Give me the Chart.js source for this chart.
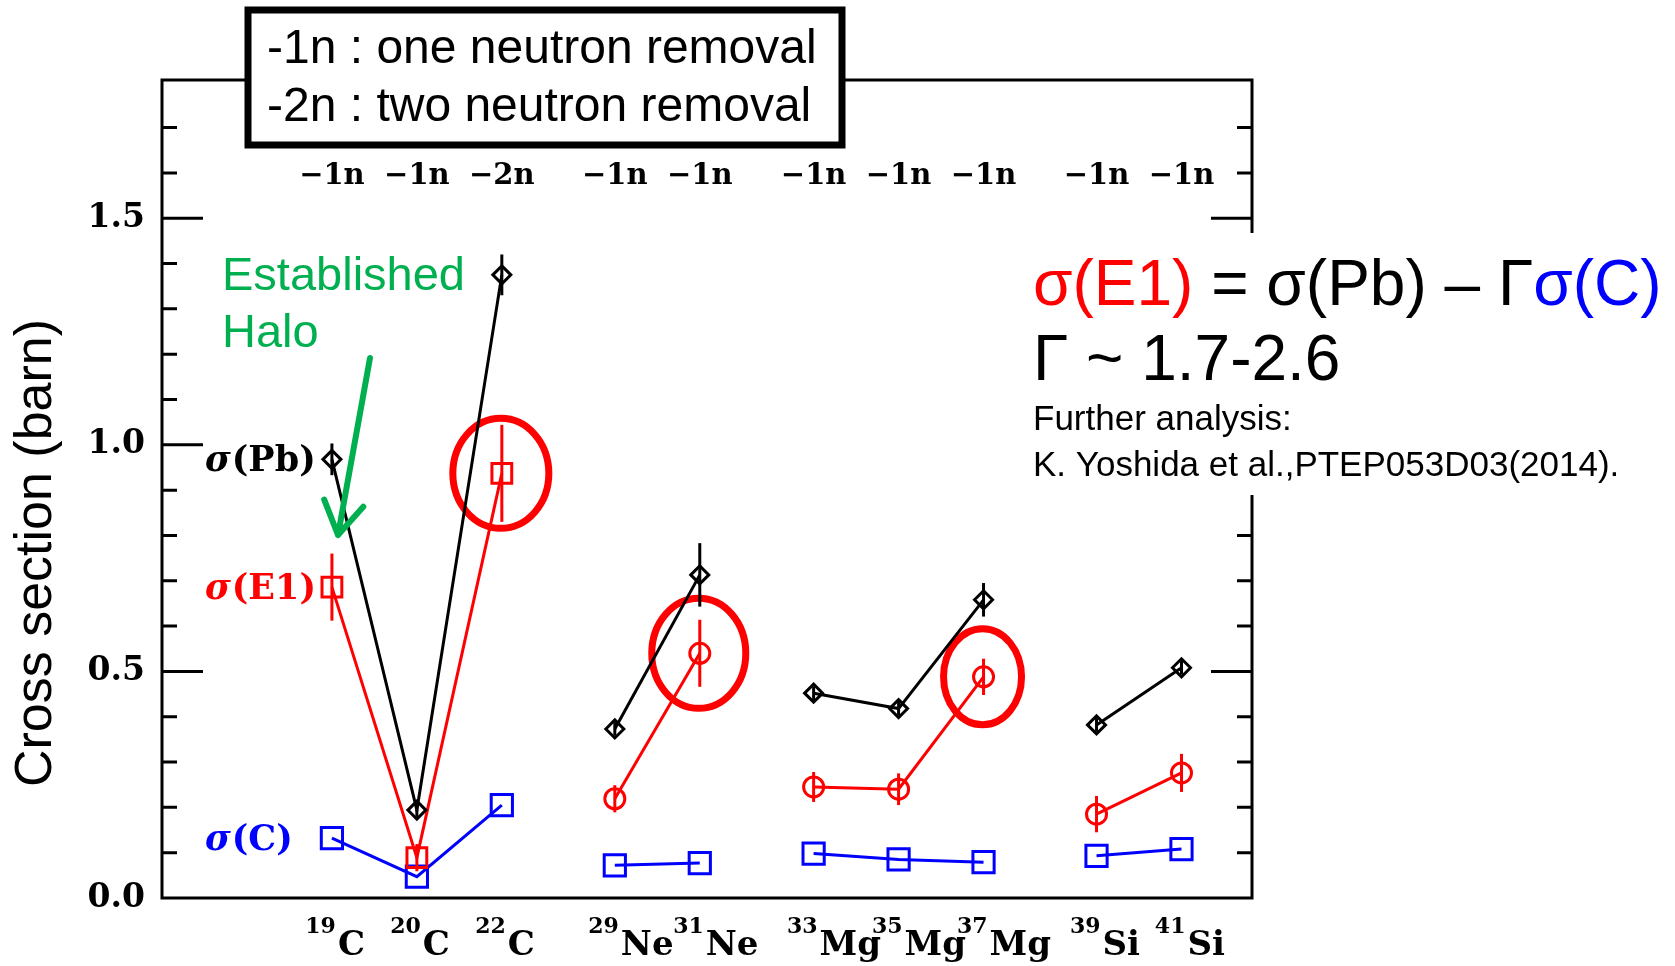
<!DOCTYPE html>
<html>
<head>
<meta charset="utf-8">
<script src="https://cdn.jsdelivr.net/npm/chart.js@4.4.0/dist/chart.umd.min.js"></script>
<style>
  html, body { margin: 0; padding: 0; background: #fff; }
  #wrap { width: 1675px; height: 966px; }
</style>
</head>
<body>
<div id="wrap"><canvas id="xsecChart" width="1675" height="966"></canvas></div>
<script>
// nuclei along the x axis
const nuclei = ['19C', '20C', '22C', '29Ne', '31Ne', '33Mg', '35Mg', '37Mg', '39Si', '41Si'];
const massNumbers = ['19', '20', '22', '29', '31', '33', '35', '37', '39', '41'];
const elements = ['C', 'C', 'C', 'Ne', 'Ne', 'Mg', 'Mg', 'Mg', 'Si', 'Si'];
const removal = ['\u22121n', '\u22121n', '\u22122n', '\u22121n', '\u22121n', '\u22121n', '\u22121n', '\u22121n', '\u22121n', '\u22121n'];
const slot = [2, 3, 4, 5.33, 6.33, 7.67, 8.67, 9.67, 11, 12];

// cross sections (barn)
const sigmaPb = [0.968, 0.194, 1.375, 0.373, 0.713, 0.452, 0.418, 0.658, 0.382, 0.508];
const sigmaPbErr = [0.035, 0.015, 0.045, 0.015, 0.07, 0.015, 0.015, 0.037, 0.015, 0.015];
const sigmaE1 = [0.686, 0.089, 0.937, 0.219, 0.540, 0.245, 0.240, 0.488, 0.185, 0.276];
const sigmaE1Err = [0.074, 0.03, 0.107, 0.03, 0.074, 0.033, 0.035, 0.04, 0.04, 0.042];
const sigmaC = [0.132, 0.047, 0.205, 0.072, 0.077, 0.098, 0.085, 0.079, 0.093, 0.108];

const yTicks = [0, 0.5, 1.0, 1.5];
const circled = ['22C', '31Ne', '37Mg'];

const SERIF = '"DejaVu Serif", serif';
const SANS = '"Liberation Sans", Arial, sans-serif';

function pts(vals) {
    return vals.map((v, i) => ({ x: slot[i], y: v }));
}
// no line between different elements
function segColor(color) {
    return ctx => elements[ctx.p0DataIndex] === elements[ctx.p1DataIndex] ? color : 'rgba(0,0,0,0)';
}

const overlay = {
    id: 'overlay',
    beforeDatasetsDraw(chart) {
        const { ctx, scales: { x, y } } = chart;
        // red rings around the halo candidates
        const rings = { '22C': [48, 55], '31Ne': [47, 55], '37Mg': [39, 48] };
        ctx.save();
        ctx.strokeStyle = '#ff0000';
        ctx.lineWidth = 7;
        circled.forEach(name => {
            const i = nuclei.indexOf(name);
            ctx.beginPath();
            ctx.ellipse(x.getPixelForValue(slot[i]) - 1, y.getPixelForValue(sigmaE1[i]), rings[name][0], rings[name][1], 0, 0, Math.PI * 2);
            ctx.stroke();
        });
        ctx.restore();
    },
    afterDatasetsDraw(chart) {
        const { ctx, chartArea: a, scales: { x, y } } = chart;
        ctx.save();

        // error bars
        ctx.lineWidth = 3;
        [[sigmaPb, sigmaPbErr, '#000'], [sigmaE1, sigmaE1Err, '#ff0000']].forEach(([v, e, c]) => {
            ctx.strokeStyle = c;
            v.forEach((val, i) => {
                const px = x.getPixelForValue(slot[i]);
                ctx.beginPath();
                ctx.moveTo(px, y.getPixelForValue(val - e[i]));
                ctx.lineTo(px, y.getPixelForValue(val + e[i]));
                ctx.stroke();
            });
        });

        // frame + ticks
        ctx.strokeStyle = '#000';
        ctx.lineWidth = 3;
        ctx.strokeRect(a.left, a.top, a.right - a.left, a.bottom - a.top);
        for (let k = 1; k <= 17; k++) {
            const py = y.getPixelForValue(k / 10);
            const len = k % 5 === 0 ? 41 : 15;
            ctx.beginPath();
            ctx.moveTo(a.left, py); ctx.lineTo(a.left + len, py);
            ctx.moveTo(a.right, py); ctx.lineTo(a.right - len, py);
            ctx.stroke();
        }

        // removal channel labels
        ctx.fillStyle = '#000';
        ctx.textAlign = 'center';
        ctx.textBaseline = 'middle';
        ctx.font = 'bold 29px ' + SERIF;
        removal.forEach((r, i) => ctx.fillText(r, x.getPixelForValue(slot[i]), a.top + 96));

        // isotope labels
        ctx.textBaseline = 'alphabetic';
        nuclei.forEach((n, i) => {
            const px = x.getPixelForValue(slot[i]);
            ctx.font = 'bold 22px ' + SERIF;
            ctx.textAlign = 'right';
            ctx.fillText(massNumbers[i], px + 4, a.bottom + 35);
            ctx.font = 'bold 34px ' + SERIF;
            ctx.textAlign = 'left';
            ctx.fillText(elements[i], px + 6, a.bottom + 57);
        });

        // series labels
        const series = [['Pb', sigmaPb, '#000'], ['E1', sigmaE1, '#ff0000'], ['C', sigmaC, '#0000ff']];
        ctx.textBaseline = 'middle';
        ctx.textAlign = 'left';
        series.forEach(([name, v, c]) => {
            const py = y.getPixelForValue(v[0]) + 3;
            let px = a.left + 43;
            ctx.fillStyle = c;
            ctx.font = 'italic bold 35px ' + SERIF;
            ctx.fillText('\u03c3', px, py);
            px += ctx.measureText('\u03c3').width + 1;
            ctx.font = 'bold 35px ' + SERIF;
            ctx.fillText('(' + name + ')', px, py);
        });

        // y title
        ctx.save();
        ctx.translate(37, (a.top + a.bottom) / 2 + 64);
        ctx.rotate(-Math.PI / 2);
        ctx.textAlign = 'center';
        ctx.fillStyle = '#000';
        ctx.font = '52px ' + SANS;
        ctx.fillText('Cross section (barn)', 0, 0);
        ctx.restore();

        // "Established Halo" + arrow
        ctx.fillStyle = '#00b050';
        ctx.font = '47px ' + SANS;
        ctx.textAlign = 'left';
        ctx.fillText('Established', a.left + 60, 277);
        ctx.fillText('Halo', a.left + 60, 334);
        const x0 = 370, y0 = 358, x1 = 338, y1 = 535;
        const ang = Math.atan2(y1 - y0, x1 - x0);
        ctx.strokeStyle = '#00b050';
        ctx.lineWidth = 6;
        ctx.lineCap = 'round';
        ctx.beginPath();
        ctx.moveTo(x0, y0); ctx.lineTo(x1, y1);
        [0.55, -0.55].forEach(d => {
            ctx.moveTo(x1, y1);
            ctx.lineTo(x1 - 38 * Math.cos(ang + d), y1 - 38 * Math.sin(ang + d));
        });
        ctx.stroke();
        ctx.lineCap = 'butt';

        // legend box for removal channels
        ctx.fillStyle = '#fff';
        ctx.fillRect(248, 10, 594, 135);
        ctx.strokeStyle = '#000';
        ctx.lineWidth = 7;
        ctx.strokeRect(248, 10, 594, 135);
        ctx.fillStyle = '#000';
        ctx.font = '48px ' + SANS;
        ctx.fillText('-1n : one neutron removal', 267, 50);
        ctx.fillText('-2n : two neutron removal', 267, 108);

        // formula block
        ctx.fillStyle = '#fff';
        ctx.fillRect(1024, 233, 651, 262);
        let px = 1033;
        ctx.font = '64px ' + SANS;
        [['\u03c3(E1)', '#ff0000'], [' = \u03c3(Pb) \u2013 \u0393', '#000'], ['\u03c3(C)', '#0000ff']].forEach(([t, c]) => {
            ctx.fillStyle = c;
            ctx.fillText(t, px, 287);
            px += ctx.measureText(t).width;
        });
        ctx.fillStyle = '#000';
        ctx.fillText('\u0393 ~ 1.7-2.6', 1033, 362);
        ctx.font = '35px ' + SANS;
        ctx.fillText('Further analysis:', 1033, 420);
        ctx.fillText('K. Yoshida et al.,PTEP053D03(2014).', 1033, 466);

        ctx.restore();
    }
};

const e1Style = elements.map(e => e === 'C' ? 'rect' : 'circle');
const e1Radius = elements.map(e => e === 'C' ? 14 : 10);

new Chart(document.getElementById('xsecChart').getContext('2d'), {
    type: 'line',
    data: {
        datasets: [{
            label: 'sigma(Pb)',
            data: pts(sigmaPb),
            borderColor: '#000',
            borderWidth: 3,
            pointStyle: 'rectRot',
            pointRadius: 9,
            pointBorderWidth: 3,
            pointBorderColor: '#000',
            pointBackgroundColor: 'rgba(0,0,0,0)',
            segment: { borderColor: segColor('#000') }
        }, {
            label: 'sigma(E1)',
            data: pts(sigmaE1),
            borderColor: '#ff0000',
            borderWidth: 3,
            pointStyle: e1Style,
            pointRadius: e1Radius,
            pointBorderWidth: 3,
            pointBorderColor: '#ff0000',
            pointBackgroundColor: 'rgba(0,0,0,0)',
            segment: { borderColor: segColor('#ff0000') }
        }, {
            label: 'sigma(C)',
            data: pts(sigmaC),
            borderColor: '#0000ff',
            borderWidth: 3,
            pointStyle: 'rect',
            pointRadius: 15,
            pointBorderWidth: 3,
            pointBorderColor: '#0000ff',
            pointBackgroundColor: 'rgba(0,0,0,0)',
            segment: { borderColor: segColor('#0000ff') }
        }]
    },
    options: {
        responsive: false,
        animation: false,
        layout: { padding: { top: 80, right: 423, bottom: 68, left: 0 } },
        plugins: { legend: { display: false }, tooltip: { enabled: false } },
        scales: {
            x: { type: 'linear', min: 0, max: 12.83, display: false },
            y: {
                type: 'linear',
                min: 0,
                max: 1.805,
                grid: { display: false, drawTicks: false },
                border: { display: false },
                afterBuildTicks: s => { s.ticks = yTicks.map(v => ({ value: v })); },
                afterFit: s => { s.width = 162; },
                ticks: {
                    padding: 17,
                    color: '#000',
                    font: { family: SERIF, weight: 'bold', size: 33 },
                    callback: v => v.toFixed(1)
                }
            }
        }
    },
    plugins: [overlay]
});
</script>
</body>
</html>
